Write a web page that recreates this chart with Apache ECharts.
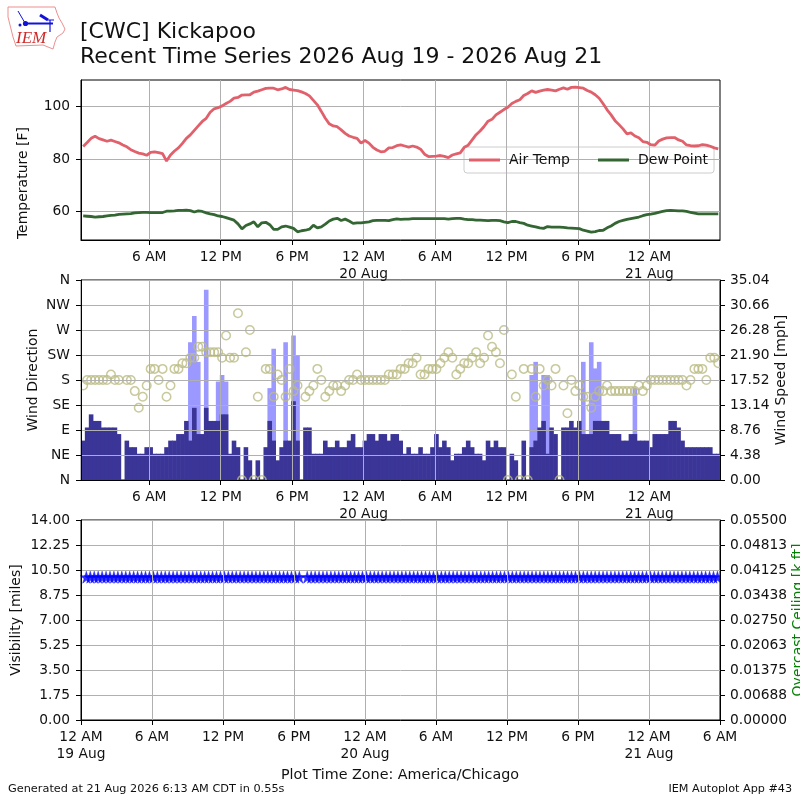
<!DOCTYPE html>
<html><head><meta charset="utf-8">
<style>html,body{margin:0;padding:0;background:#fff}#c{width:800px;height:800px}</style>
<script src="https://cdn.jsdelivr.net/npm/echarts@6/dist/echarts.min.js"></script>
</head><body><div id="c"></div>
<script>
var airTemp=[84.7,86.2,87.8,88.6,87.7,87.2,86.7,87.1,86.6,86.1,85.3,84.6,83.5,82.8,82.2,81.9,81.4,82.5,82.7,82.4,82,79.2,81.5,83,84.2,85.9,87.8,89.1,90.8,92.5,94.2,95.4,97.7,99,99.4,100.1,101,101.8,103,103.3,104.2,104.3,104.3,105.3,105.7,106.2,106.7,106.8,106.8,106.2,106.5,107.1,106.3,106.1,105.9,105.4,104.8,103.9,102.2,100.5,98,95.4,93.3,92.5,92.2,91,89.7,88.7,88.2,87.8,86,87,86,84.4,83.4,82.7,82.9,84.2,84.3,85,85.3,84.9,84.5,84.9,84.5,83.7,81.8,80.9,81,81.1,81.3,81,80.5,81.5,81.9,82.3,84.4,85.2,87.2,89.2,90.6,92.3,94.3,95,96.7,97.7,98.7,99.6,101,101.8,102.4,104,104.8,105.8,105.2,105.7,106.1,106.3,106.1,105.8,106.4,106.9,106.4,107.1,107.2,107,106.8,105.9,105.3,104.3,103,100.9,98.6,96.7,94.5,93,91.4,89.5,89.9,88.7,88,86.6,86.3,85.4,85.2,86.8,87.5,88,88.1,88.1,87.2,86.7,85.3,85,84.9,85,85.4,85.2,84.8,84.2,83.8];
var dewPoint=[58.4,58.3,58.2,58,58.1,58.2,58.4,58.6,58.7,59,59.1,59.2,59.3,59.6,59.7,59.8,59.8,59.7,59.7,59.7,59.7,60.2,60.2,60.3,60.5,60.5,60.6,60.4,59.9,60.3,60.1,59.6,59.2,58.9,58.4,58.2,57.8,57.3,56.8,55.4,53.5,54.8,55.4,56.2,54.3,55.8,56,55.1,53.3,53.3,54.3,54.6,54.2,53.7,52.4,52.8,53,53.4,54.9,53.9,54.3,55.3,56.5,57.2,57.5,56.7,57.2,56.5,55.6,55.8,55.8,56,56.2,56.6,56.7,56.7,56.7,56.6,57,57.3,57.1,57.2,57.2,57.4,57.4,57.4,57.4,57.4,57.4,57.4,57.4,57.4,57.2,57.4,57.5,57.5,57.2,57,57,56.8,56.8,56.7,56.6,56.7,56.7,56.6,56.2,55.9,56.3,56.3,55.9,55.6,54.9,54.6,54.3,53.9,53.7,54.4,54.2,54.2,54.2,54.1,53.9,53.8,53.7,53.6,53,52.7,52.3,52.5,52.9,53,53.9,54.6,55.6,56.3,56.7,57.1,57.4,57.7,58,58.5,58.9,59.1,59.4,59.8,60.1,60.4,60.5,60.4,60.3,60.3,60.1,59.8,59.5,59.2,59.2,59.2,59.2,59.2,59.2];
var windSpeed=[6.9,9.2,11.5,10.35,10.35,9.2,9.2,9.2,9.2,8.05,null,6.9,5.75,5.75,4.6,4.6,5.75,5.75,4.6,4.6,4.6,5.75,6.9,6.9,8.05,8.05,10.35,6.9,12.65,8.05,8.05,12.65,10.35,10.35,10.35,11.5,11.5,4.6,6.9,5.75,0,5.75,3.45,0,3.45,0,5.75,10.35,6.9,3.45,5.75,6.9,6.9,13.8,6.9,null,9.2,9.2,4.6,4.6,4.6,6.9,5.75,5.75,6.9,5.75,5.75,6.9,8.05,5.75,5.75,6.9,8.05,8.05,6.9,8.05,8.05,6.9,8.05,8.05,6.9,4.6,5.75,4.6,4.6,5.75,4.6,4.6,5.75,8.05,5.75,6.9,5.75,3.45,4.6,4.6,5.75,6.9,5.75,4.6,4.6,3.45,6.9,5.75,6.9,5.75,5.75,0,4.6,3.45,0,6.9,0,5.75,6.9,9.2,10.35,4.6,9.2,8.05,0,9.2,9.2,10.35,9.2,10.35,8.05,8.05,8.05,10.35,10.35,10.35,10.35,8.05,8.05,8.05,6.9,6.9,8.05,8.05,6.9,6.9,6.9,5.75,8.05,8.05,8.05,8.05,10.35,10.35,9.2,6.9,5.75,5.75,5.75,5.75,5.75,5.75,5.75,4.6,4.6];
var windGust=[
null,null,null,null,null,null,null,null,null,null,
null,null,null,null,null,null,null,null,null,null,
null,null,null,null,null,null,null,24.15,28.75,20.7,
null,33.35,null,null,17.25,18.4,17.25,null,null,null,
null,null,null,null,null,null,null,16.1,23,null,
null,24.15,null,25.3,21.85,null,null,null,null,null,
null,null,null,null,null,null,null,null,null,null,
null,null,null,null,null,null,null,null,null,null,
null,null,null,null,null,null,null,null,null,null,
null,null,null,null,null,null,null,null,null,null,
null,null,null,null,null,null,null,null,null,null,
null,null,null,18.4,20.7,null,18.4,18.4,null,null,
null,null,null,null,null,null,20.7,null,24.15,19.55,
20.7,null,null,null,null,null,null,null,null,16.1,
null,null,null,null,null,null,null,null,null,null,
null,null,null,null,null,null,null,null,null,null,
null];
var windDir=[170,180,180,180,180,180,180,190,180,180,null,180,180,160,130,150,170,200,200,180,200,150,170,200,200,210,210,220,220,240,240,230,230,230,230,220,260,220,220,300,0,230,270,0,150,0,200,200,150,190,180,150,200,160,170,null,150,160,170,200,180,150,160,170,170,160,170,180,180,190,180,180,180,180,180,180,180,190,190,190,200,200,210,210,220,190,190,200,200,200,210,220,230,220,190,200,210,210,220,230,210,220,260,240,230,210,270,0,190,150,0,200,0,200,150,200,170,180,170,200,0,170,120,180,160,170,150,150,130,150,160,160,170,160,160,160,160,160,160,160,170,160,170,180,180,180,180,180,180,180,180,180,170,180,200,200,200,180,220,220,210];
var visibility=[10,10,10,10,10,10,10,10,10,10,10,10,10,10,10,10,10,10,10,10,10,10,10,10,10,10,10,10,10,10,10,10,10,10,10,10,10,10,10,10,10,10,10,10,10,10,10,10,10,10,10,10,10,10,10,null,10,10,10,10,10,10,10,10,10,10,10,10,10,10,10,10,10,10,10,10,10,10,10,10,10,10,10,10,10,10,10,10,10,10,10,10,10,10,10,10,10,10,10,10,10,10,10,10,10,10,10,10,10,10,10,10,10,10,10,10,10,10,10,10,10,10,10,10,10,10,10,10,10,10,10,10,10,10,10,10,10,10,10,10,10,10,10,10,10,10,10,10,10,10,10,10,10,10,10,10,10,10,10,10,10];
var dirLabels=['N','NE','E','SE','S','SW','W','NW','N'];
var upperTickHours=[6,12,18,24,30,36,42,48];
var lowerTickHours=[0,6,12,18,24,30,36,42,48,54];
var hourLabels={0:'12 AM\n19 Aug',6:'6 AM',12:'12 PM',18:'6 PM',24:'12 AM\n20 Aug',30:'6 AM',36:'12 PM',42:'6 PM',48:'12 AM\n21 Aug',54:'6 AM'};
var tempTicks=[60,80,100];

// x is hours since 12 AM on 19 Aug; observations every 20 minutes from 00:27
var firstObs=0.45, STEP=1/3;
function pairs(a){return a.map(function(v,i){return [firstObs+i*STEP,v];});}
var FONT='DejaVu Sans', TXT='#111', GRID='#b0b0b0', FS=13.8;
var upperMin=0.267, upperMax=53.93;

function xAxis(gridIndex,min,max,hours){
  return {type:'value',gridIndex:gridIndex,min:min,max:max,z:4,
    axisLine:{show:true,onZero:false,lineStyle:{color:'#000',width:1}},
    axisTick:{show:true,length:5,lineStyle:{color:'#000'},customValues:hours},
    axisLabel:{customValues:hours,color:TXT,fontFamily:FONT,fontSize:FS,margin:9,lineHeight:17,hideOverlap:false,showMinLabel:true,showMaxLabel:true,
      formatter:function(v){return hourLabels[Math.round(v)]||'';}},
    splitLine:{show:true,lineStyle:{color:GRID,width:1}}};
}
function yAxis(o){
  return Object.assign({type:'value',z:4,nameLocation:'middle',nameRotate:90,nameMoveOverlap:false,
    nameTextStyle:{color:TXT,fontFamily:FONT,fontSize:14},
    axisLine:{show:true,lineStyle:{color:'#000',width:1}},
    axisTick:{show:true,length:5,lineStyle:{color:'#000'}},
    splitLine:{show:true,lineStyle:{color:GRID,width:1}}},o,{
    axisLabel:Object.assign({color:TXT,fontFamily:FONT,fontSize:FS,margin:o.position==='right'?10:11,showMinLabel:true,showMaxLabel:true},o.axisLabel||{})});
}
var star='path://M50,0 L61,35 L98,35 L68,57 L79,91 L50,70 L21,91 L32,57 L2,35 L39,35 Z';
function rect(x,y,w,h){return {type:'rect',silent:true,z:3,shape:{x:x,y:y,width:w,height:h},style:{fill:'#fff'}};}
var outline=[[8,7],[55,7],[57,13],[59,18],[62,23],[65,29],[63,33],[57,37],[55,42],[53,49],[43,45],[16,46],[13,37],[8,17]];

var chart=echarts.init(document.getElementById('c'),null,{renderer:'canvas',width:800,height:800});
chart.setOption({
  animation:false,backgroundColor:'#fff',
  textStyle:{fontFamily:FONT},
  title:[
    {text:'[CWC] Kickapoo',left:80,top:21,padding:0,textStyle:{fontFamily:FONT,fontSize:22,fontWeight:'normal',color:TXT}},
    {text:'Recent Time Series 2026 Aug 19 - 2026 Aug 21',left:80,top:46,padding:0,textStyle:{fontFamily:FONT,fontSize:22,fontWeight:'normal',color:TXT}},
    {text:'Plot Time Zone: America/Chicago',left:281,top:768,padding:0,textStyle:{fontFamily:FONT,fontSize:14.3,fontWeight:'normal',color:TXT}},
    {text:'Generated at 21 Aug 2026 6:13 AM CDT in 0.55s',left:8,top:784,padding:0,textStyle:{fontFamily:FONT,fontSize:11.3,fontWeight:'normal',color:TXT}},
    {text:'IEM Autoplot App #43',right:8,top:784,padding:0,textStyle:{fontFamily:FONT,fontSize:11.2,fontWeight:'normal',color:TXT}}
  ],
  legend:{data:['Air Temp','Dew Point'],left:464,top:147,orient:'horizontal',padding:[6,6,6,5],itemWidth:31,itemHeight:3,itemGap:28,
    backgroundColor:'rgba(255,255,255,0.8)',borderColor:'#ccc',borderWidth:1,borderRadius:3,
    textStyle:{fontFamily:FONT,fontSize:14,color:TXT,padding:[0,0,0,4]},icon:'rect'},
  grid:[
    {left:81,top:80,width:639,height:160,show:true,borderColor:'#000',borderWidth:1,outerBoundsMode:'none'},
    {left:81,top:280,width:639,height:200,show:true,borderColor:'#000',borderWidth:1,outerBoundsMode:'none'},
    {left:81,top:520,width:639,height:200,show:true,borderColor:'#000',borderWidth:1,outerBoundsMode:'none'}
  ],
  xAxis:[xAxis(0,upperMin,upperMax,upperTickHours),xAxis(1,upperMin,upperMax,upperTickHours),xAxis(2,0,54,lowerTickHours)],
  yAxis:[
    yAxis({gridIndex:0,min:49.3,max:109.9,name:'Temperature [F]',nameGap:51,nameTextStyle:{color:TXT,fontFamily:FONT,fontSize:14,padding:[0,46,0,0]},axisTick:{show:true,length:5,lineStyle:{color:'#000'},customValues:tempTicks},axisLabel:{customValues:tempTicks}}),
    yAxis({gridIndex:1,min:0,max:360,interval:45,name:'Wind Direction',nameGap:41,axisLabel:{formatter:function(v){return dirLabels[Math.round(v/45)];}}}),
    yAxis({gridIndex:1,min:0,max:35.04,interval:4.38,position:'right',name:'Wind Speed [mph]',nameGap:54,splitLine:{show:false},axisLabel:{formatter:function(v){return v.toFixed(2);}}}),
    yAxis({gridIndex:2,min:0,max:14,interval:1.75,name:'Visibility [miles]',nameGap:58,axisLabel:{formatter:function(v){return v.toFixed(2);}}}),
    yAxis({gridIndex:2,min:0,max:0.055,interval:0.006875,position:'right',name:'Overcast Ceiling [k ft]',nameGap:71,nameTextStyle:{color:'#008000',fontFamily:FONT,fontSize:14},splitLine:{show:false},axisLabel:{formatter:function(v){return v.toFixed(5);}}})
  ],
  series:[
    {name:'Air Temp',type:'line',xAxisIndex:0,yAxisIndex:0,data:pairs(airTemp),showSymbol:false,symbol:'none',z:5,lineStyle:{color:'#e0616b',width:2.8},itemStyle:{color:'#e0616b'}},
    {name:'Dew Point',type:'line',xAxisIndex:0,yAxisIndex:0,data:pairs(dewPoint),showSymbol:false,symbol:'none',z:5,lineStyle:{color:'#336633',width:2.8},itemStyle:{color:'#336633'}},
    {name:'Wind Gust',type:'bar',xAxisIndex:1,yAxisIndex:2,data:pairs(windGust),barWidth:4.6,barGap:'-100%',z:2,itemStyle:{color:'#9b99ff'}},
    {name:'Wind Speed',type:'bar',xAxisIndex:1,yAxisIndex:2,data:pairs(windSpeed),barWidth:4.6,barGap:'-100%',z:2,itemStyle:{color:'#3a3597'}},
    {name:'Wind Direction',type:'scatter',xAxisIndex:1,yAxisIndex:1,data:pairs(windDir),symbol:'circle',symbolSize:8.5,clip:false,z:2,itemStyle:{color:'rgba(0,0,0,0)',borderColor:'#bcbc85',borderWidth:1.5}},
    {name:'Visibility',type:'scatter',xAxisIndex:2,yAxisIndex:3,data:pairs(visibility),symbol:star,symbolSize:12,clip:false,z:2,itemStyle:{color:'#0000ff',borderColor:'#0000ff',borderWidth:0.5}}
  ],
  graphic:{elements:[
    rect(75,481,651,8),rect(75,275,5.5,206),rect(720.5,275,5.5,206),rect(720.5,515,5.5,206),
    {type:'polygon',silent:true,shape:{points:outline},style:{fill:'#fff',stroke:'#ee8f8f',lineWidth:1}},
    {type:'text',silent:true,x:16,y:30,style:{text:'IEM',fontFamily:'Liberation Serif',fontStyle:'italic',fontSize:17,fill:'#cf2a2a'}},
    {type:'line',silent:true,shape:{x1:25,y1:23.5,x2:53,y2:23.5},style:{stroke:'#1212d8',lineWidth:2}},
    {type:'circle',silent:true,shape:{cx:25.5,cy:23.5,r:2.6},style:{fill:'#1212d8'}},
    {type:'line',silent:true,shape:{x1:25,y1:23,x2:18,y2:11},style:{stroke:'#1212d8',lineWidth:1}},
    {type:'line',silent:true,shape:{x1:40,y1:15,x2:48,y2:20},style:{stroke:'#1212d8',lineWidth:3}},
    {type:'line',silent:true,shape:{x1:48,y1:20,x2:54,y2:20},style:{stroke:'#1212d8',lineWidth:1}},
    {type:'line',silent:true,shape:{x1:50,y1:20,x2:50,y2:32},style:{stroke:'#1212d8',lineWidth:1.2}},
    {type:'circle',silent:true,shape:{cx:20,cy:25,r:1.5},style:{fill:'#1212d8'}}
  ]}
});
</script></body></html>
